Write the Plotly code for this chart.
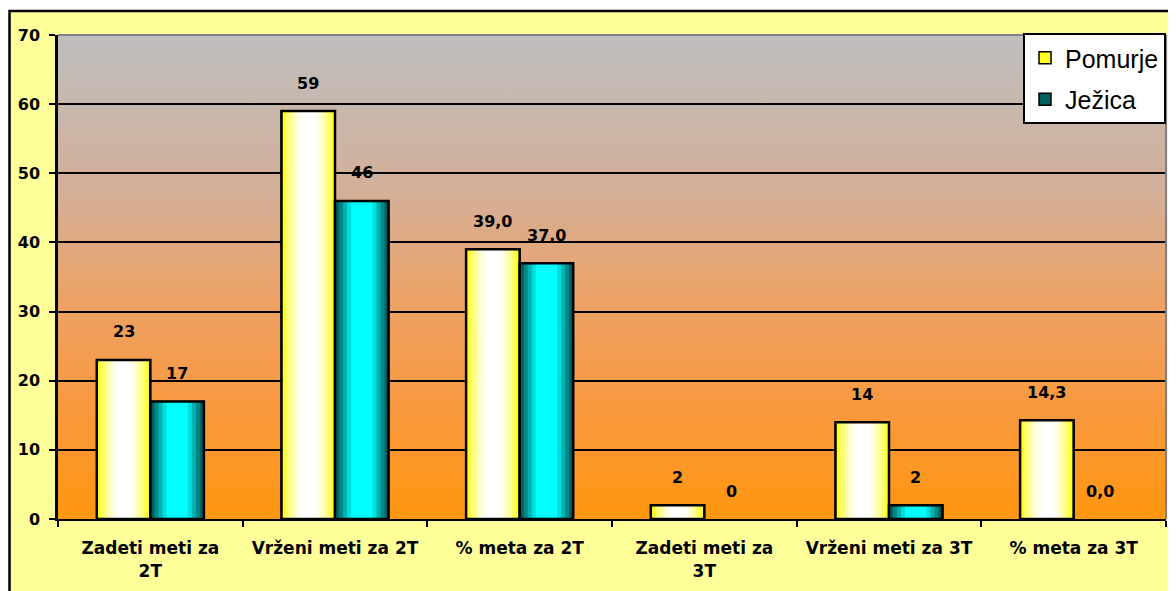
import base64
import plotly.graph_objects as go

categories = ["Zadeti meti za 2T", "Vrženi meti za 2T", "% meta za 2T",
              "Zadeti meti za 3T", "Vrženi meti za 3T", "% meta za 3T"]
tick_labels = ["Zadeti meti za<br>2T", "Vrženi meti za 2T", "% meta za 2T",
               "Zadeti meti za<br>3T", "Vrženi meti za 3T", "% meta za 3T"]
pomurje = [23, 59, 39.0, 2, 14, 14.3]
jezica = [17, 46, 37.0, 0, 2, 0.0]
pomurje_text = ["23", "59", "39,0", "2", "14", "14,3"]
jezica_text = ["17", "46", "37,0", "0", "2", "0,0"]

W = 0.29
BOLD = "DejaVu Sans"

# horizontal "cylinder" shading done with stacked narrower bars
pom_layers = [(1.0, "#FFFF22"), (0.85, "#FFFF66"), (0.7, "#FFFF99"),
              (0.55, "#FFFFCC"), (0.4, "#FFFFEE"), (0.25, "#FFFFFF")]
jez_layers = [(1.0, "#005F5F"), (0.85, "#008888"), (0.7, "#00B2B2"),
              (0.55, "#00DDDD"), (0.4, "#00FFFF")]

fig = go.Figure()


def add_series(name, vals, layers, base_off):
    lw = [0 if v == 0 else 2.5 for v in vals]
    lw0 = [0 if v == 0 else 1.5 for v in vals]
    for i, (frac, col) in enumerate(layers):
        first = i == 0
        fig.add_trace(go.Bar(
            x=categories, y=vals, name=name, legendgroup=name,
            width=W * frac, offset=base_off + W * (1 - frac) / 2,
            marker=dict(color=col, line=dict(color="black", width=lw0 if first else 0)),
            showlegend=first, hoverinfo="skip" if not first else None,
        ))
    fig.add_trace(go.Bar(
        x=categories, y=vals, name=name, legendgroup=name, width=W, offset=base_off,
        marker=dict(color="rgba(0,0,0,0)", line=dict(color="black", width=lw)),
        showlegend=False, hoverinfo="skip",
    ))


add_series("Pomurje", pomurje, pom_layers, -W)
add_series("Ježica", jezica, jez_layers, 0)

# value labels floating above the bars
for i in range(len(categories)):
    for vals, txt, dx in ((pomurje, pomurje_text, -W / 2), (jezica, jezica_text, W / 2)):
        fig.add_annotation(x=i + dx, y=vals[i], text=txt[i], showarrow=False,
                           yanchor="middle", yshift=28,
                           font=dict(family=BOLD, size=16, color="black", weight="bold"))

# plot-area gradient background (grey -> orange)
svg = ('<svg xmlns="http://www.w3.org/2000/svg" width="100" height="100" viewBox="0 0 100 100" '
       'preserveAspectRatio="none"><defs><linearGradient id="g" x1="0" y1="0" x2="0" y2="1">'
       '<stop offset="0" stop-color="#BEBEBE"/><stop offset="0.32" stop-color="#D3AF99"/>'
       '<stop offset="0.55" stop-color="#EDA265"/><stop offset="0.77" stop-color="#F9993F"/>'
       '<stop offset="1" stop-color="#FF960E"/></linearGradient></defs>'
       '<rect width="100" height="100" fill="url(#g)"/></svg>')
src = "data:image/svg+xml;base64," + base64.b64encode(svg.encode()).decode()
fig.add_layout_image(source=src, xref="paper", yref="paper", x=0, y=1, sizex=1, sizey=1,
                     xanchor="left", yanchor="top", sizing="stretch", layer="below")

# the page puts the figure 8px in from the top-left corner
FW, FH = 1168, 583
L, R, T, B = 50, 10, 27, 72
pw, ph = FW - L - R, FH - T - B
px = lambda p: (p - L) / pw
py = lambda p: (FH - B - p) / ph

shapes = [
    dict(type="rect", xref="paper", yref="paper", x0=px(-5), x1=px(1190), y0=py(-5), y1=py(2.5),
         fillcolor="white", line=dict(width=0), layer="below"),
    dict(type="rect", xref="paper", yref="paper", x0=px(-5), x1=px(1), y0=py(600), y1=py(-5),
         fillcolor="white", line=dict(width=0), layer="below"),
    dict(type="rect", xref="paper", yref="paper", x0=px(1.5), x1=px(1200), y0=py(620), y1=py(3),
         fillcolor="rgba(0,0,0,0)", line=dict(color="black", width=2.5), layer="above"),
    dict(type="line", xref="paper", yref="paper", x0=0, x1=1, y0=1, y1=1,
         line=dict(color="#808080", width=2), layer="above"),
    dict(type="line", xref="paper", yref="paper", x0=1, x1=1, y0=0, y1=1,
         line=dict(color="#808080", width=2), layer="above"),
]

fig.update_layout(
    width=FW, height=FH,
    margin=dict(l=L, r=R, t=T, b=B),
    paper_bgcolor="#FFFF99", plot_bgcolor="rgba(0,0,0,0)",
    barmode="overlay", shapes=shapes,
    font=dict(family=BOLD, size=16, color="black"),
    legend=dict(x=px(1158), y=py(25), xanchor="right", yanchor="top",
                bgcolor="white", bordercolor="black", borderwidth=2,
                font=dict(family="Liberation Sans", size=25, color="black"),
                traceorder="grouped", tracegroupgap=6),
    xaxis=dict(tickvals=categories, ticktext=tick_labels, range=[-0.5, 5.5],
               showline=True, linecolor="black", linewidth=2,
               ticks="outside", tickson="boundaries", ticklen=6, tickwidth=2, tickcolor="black",
               ticklabelstandoff=13,
               tickfont=dict(family=BOLD, size=17, weight="bold"), showgrid=False),
    yaxis=dict(range=[0, 70], dtick=10, showline=True, linecolor="black", linewidth=2.5,
               ticks="outside", ticklen=6, tickwidth=2, tickcolor="black",
               ticklabelstandoff=6,
               showgrid=True, gridcolor="black", gridwidth=2, zeroline=False,
               tickfont=dict(family=BOLD, size=16, weight="bold")),
)

fig.write_html("out.html")
